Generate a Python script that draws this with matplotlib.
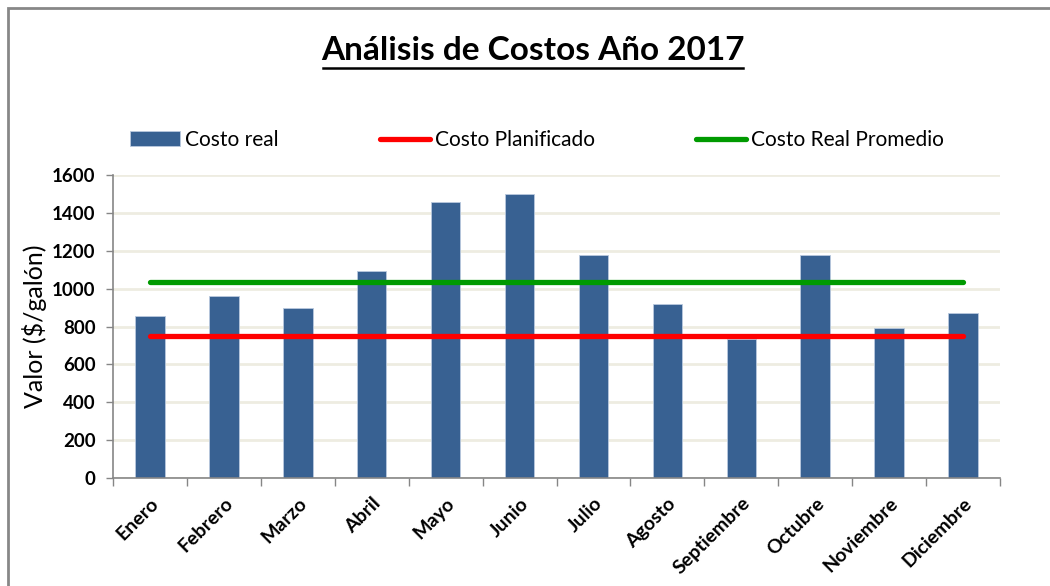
import matplotlib
matplotlib.use("Agg")
import matplotlib.pyplot as plt
from matplotlib.patches import Rectangle
import numpy as np

plt.rcParams['font.family'] = ['Lato', 'DejaVu Sans']

meses = ["Enero", "Febrero", "Marzo", "Abril", "Mayo", "Junio", "Julio",
         "Agosto", "Septiembre", "Octubre", "Noviembre", "Diciembre"]
costo_real = [855, 962, 898, 1093, 1457, 1500, 1178, 920, 734, 1178, 794, 870]
costo_planificado = [750] * 12
costo_promedio = [1037] * 12
yticks = [0, 200, 400, 600, 800, 1000, 1200, 1400, 1600]

fig = plt.figure(figsize=(10.5, 5.86), dpi=100)
ax = fig.add_axes([113/1050, 1-478/586, (1000-113)/1050, (478-175)/586])

x = np.arange(len(meses))
h_bar = ax.bar(x, costo_real, width=0.4, color="#386192", edgecolor="#B9C9DE",
               linewidth=0.6, zorder=2, label="Costo real")
h_plan, = ax.plot(x, costo_planificado, color="#FF0000", lw=3.8,
                  solid_capstyle="round", zorder=3, label="Costo Planificado")
h_prom, = ax.plot(x, costo_promedio, color="#009A00", lw=3.8,
                  solid_capstyle="round", zorder=3, label="Costo Real Promedio")

ax.set_xlim(-0.5, len(meses) - 0.5)
ax.set_ylim(0, 1600)
ax.set_yticks(yticks)
ax.set_yticklabels([str(v) for v in yticks], fontsize=13.5, fontweight="bold")
ax.yaxis.grid(True, color="#EEECE1", lw=2, zorder=0)
ax.set_axisbelow(True)

ax.set_xticks(x)
ax.set_xticklabels(meses, rotation=45, ha="right", va="top",
                   rotation_mode="anchor", fontsize=14, fontweight="bold")
ax.set_xticks(np.arange(-0.5, len(meses)), minor=True)
ax.tick_params(axis="x", which="major", length=0, pad=12)
ax.tick_params(axis="x", which="minor", length=6, color="#868686", width=1)
ax.tick_params(axis="y", length=5, color="#868686", width=1, pad=7.5)

for s in ["top", "right"]:
    ax.spines[s].set_visible(False)
for s in ["left", "bottom"]:
    ax.spines[s].set_color("#868686")
    ax.spines[s].set_linewidth(1.2)

ax.set_ylabel("Valor ($/galón)", fontsize=18, labelpad=4)

fig.text(533/1050, 1-50/586, "Análisis de Costos Año 2017", ha="center",
         va="center", fontsize=24, fontweight="bold")
fig.add_artist(plt.Line2D([323/1050, 743/1050], [1-68/586, 1-68/586],
                          color="black", lw=1.8))

leg = fig.legend(handles=[h_bar, h_plan, h_prom],
                 labels=["Costo real", "Costo Planificado", "Costo Real Promedio"],
                 loc="center left", bbox_to_anchor=(111/1050, 1-140/586), ncol=3,
                 frameon=False, fontsize=15, handlelength=2.4, handletextpad=0.25,
                 columnspacing=4.85)

fig.add_artist(Rectangle((8/1050, -0.1), 1.2, 1-8/586+0.1, fill=False,
                         edgecolor="#878787", lw=2, transform=fig.transFigure))

fig.savefig("out.png", dpi=100)
